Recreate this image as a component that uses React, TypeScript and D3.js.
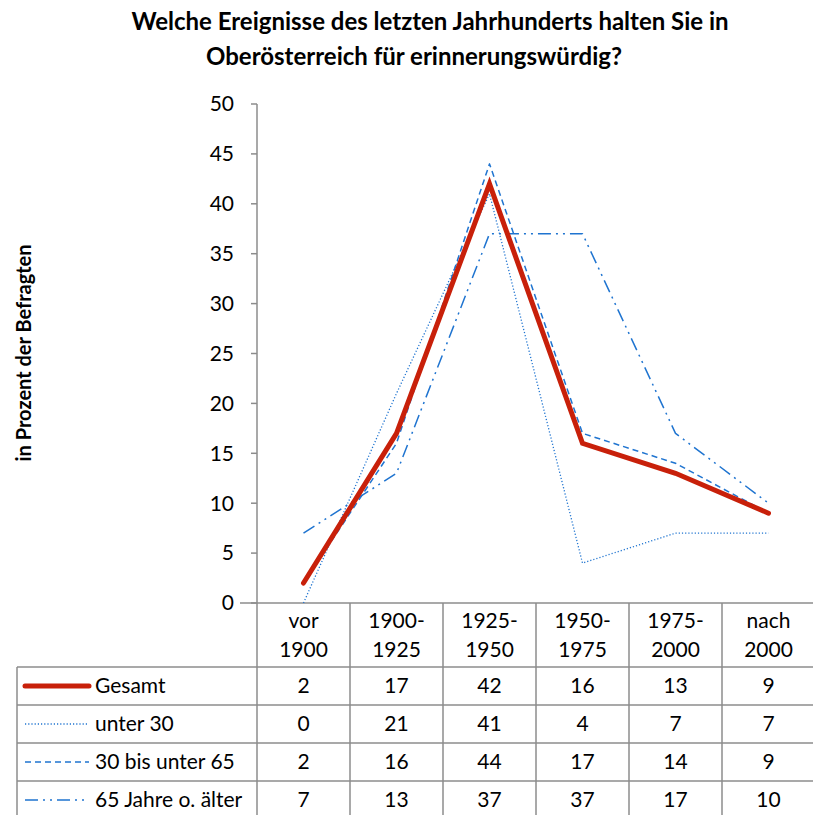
import * as d3 from "d3";

const categories = ["vor|1900", "1900-|1925", "1925-|1950", "1950-|1975", "1975-|2000", "nach|2000"];
const seriesNames = ["Gesamt", "unter 30", "30 bis unter 65", "65 Jahre o. älter"];
const gesamt = [2, 17, 42, 16, 13, 9];
const unter30 = [0, 21, 41, 4, 7, 7];
const mitte = [2, 16, 44, 17, 14, 9];
const ab65 = [7, 13, 37, 37, 17, 10];
const yTicks = [0, 5, 10, 15, 20, 25, 30, 35, 40, 45, 50];

const styles = [
  { color: "#c8200a", width: 5, dash: "" },
  { color: "#1f74d0", width: 1.3, dash: "1.2,2" },
  { color: "#1f74d0", width: 1.5, dash: "6,4" },
  { color: "#1f74d0", width: 1.5, dash: "13,5,2,5,2,5" },
];

const FONT = "Lato, 'Noto Sans', sans-serif";
const GRID = "#8c8c8c";

export default function App() {
  const width = 813;
  const height = 815;
  const left = 257;
  const right = 815;
  const top = 104;
  const bottom = 603;
  const headerBottom = 667;
  const rowH = 38;
  const legendLeft = 17;

  const x = d3.scaleBand<number>().domain(d3.range(categories.length)).range([left, right]);
  const y = d3.scaleLinear().domain([0, 50]).range([bottom, top]);
  const line = d3.line<number>((d, i) => x(i)! + x.bandwidth() / 2, (d) => y(d));

  const all = [gesamt, unter30, mitte, ab65];
  const drawOrder = [1, 2, 3, 0];
  const tableBottom = headerBottom + rowH * all.length;

  return (
    <svg width={width} height={height} style={{ position: "absolute", left: 0, top: 0, fontFamily: FONT }}>
      <rect width={width} height={height} fill="#fff" />
      <text x={430} y={30} textAnchor="middle" fontSize={24} fontWeight="bold" fill="#000">
        Welche Ereignisse des letzten Jahrhunderts halten Sie in
      </text>
      <text x={414} y={65} textAnchor="middle" fontSize={24} fontWeight="bold" fill="#000">
        Oberösterreich für erinnerungswürdig?
      </text>
      <text
        transform={`translate(31,${353}) rotate(-90)`}
        textAnchor="middle"
        fontSize={20}
        fontWeight="bold"
      >
        in Prozent der Befragten
      </text>

      {/* y axis */}
      <line x1={left} x2={left} y1={top} y2={tableBottom} stroke={GRID} strokeWidth={1.5} />
      {yTicks.map((t) => (
        <g key={t}>
          <line x1={left - 6} x2={left} y1={y(t)} y2={y(t)} stroke={GRID} strokeWidth={1.5} />
          <text x={left - 23} y={y(t)} dy="0.35em" textAnchor="end" fontSize={21}>
            {t}
          </text>
        </g>
      ))}
      <line x1={left - 17} x2={right} y1={bottom} y2={bottom} stroke={GRID} strokeWidth={1.5} />

      {/* table grid */}
      {categories.map((c, i) => (
        <line key={c} x1={x(i)! + x.bandwidth()} x2={x(i)! + x.bandwidth()} y1={bottom} y2={tableBottom} stroke={GRID} strokeWidth={1.5} />
      ))}
      {all.map((_, r) => (
        <line key={r} x1={legendLeft} x2={right} y1={headerBottom + r * rowH} y2={headerBottom + r * rowH} stroke={GRID} strokeWidth={1.5} />
      ))}
      <line x1={legendLeft} x2={legendLeft} y1={headerBottom} y2={tableBottom} stroke={GRID} strokeWidth={1.5} />

      {categories.map((c, i) => {
        const [a, b] = c.split("|");
        const cx = x(i)! + x.bandwidth() / 2;
        return (
          <g key={c} fontSize={21} textAnchor="middle">
            <text x={cx} y={628}>{a}</text>
            <text x={cx} y={657}>{b}</text>
          </g>
        );
      })}

      {all.map((vals, r) => {
        const cy = headerBottom + r * rowH + rowH / 2;
        const s = styles[r];
        return (
          <g key={r}>
            <line x1={25} x2={89} y1={cy} y2={cy} stroke={s.color} strokeWidth={s.width} strokeDasharray={s.dash} strokeLinecap={r === 0 ? "round" : "butt"} />
            <text x={95} y={cy} dy="0.35em" fontSize={21}>{seriesNames[r]}</text>
            {vals.map((v, i) => (
              <text key={i} x={x(i)! + x.bandwidth() / 2} y={cy} dy="0.35em" textAnchor="middle" fontSize={21}>
                {v}
              </text>
            ))}
          </g>
        );
      })}

      {/* lines */}
      {drawOrder.map((r) => (
        <path
          key={r}
          d={line(all[r])!}
          fill="none"
          stroke={styles[r].color}
          strokeWidth={styles[r].width}
          strokeDasharray={styles[r].dash}
          strokeLinecap={r === 0 ? "round" : "butt"}
          strokeLinejoin={r === 0 ? "miter" : "round"}
        />
      ))}
    </svg>
  );
}
